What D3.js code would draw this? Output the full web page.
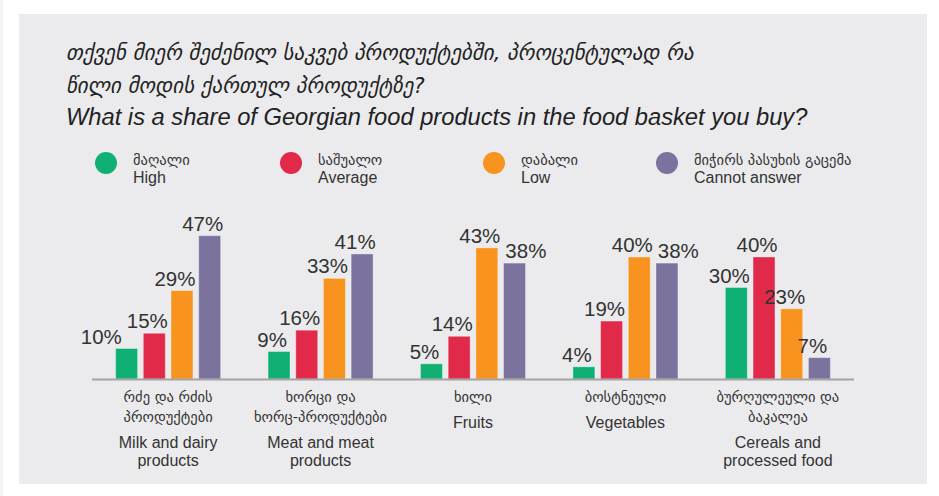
<!DOCTYPE html>
<html>
<head>
<meta charset="utf-8">
<script src="https://cdn.jsdelivr.net/npm/d3@7"></script>
<style>
  html, body { margin: 0; padding: 0; background: #ffffff; }
  svg { display: block; }
</style>
</head>
<body>
<svg id="chart" width="939" height="496"></svg>
<script>
// ---------- data ----------
const categoriesKa = [
  ["რძე და რძის", "პროდუქტები"],
  ["ხორცი და", "ხორც-პროდუქტები"],
  ["ხილი"],
  ["ბოსტნეული"],
  ["ბურღულეული და", "ბაკალეა"]
];
const categoriesEn = [
  ["Milk and dairy", "products"],
  ["Meat and meat", "products"],
  ["Fruits"],
  ["Vegetables"],
  ["Cereals and", "processed food"]
];
const seriesKa = ["მაღალი", "საშუალო", "დაბალი", "მიჭირს პასუხის გაცემა"];
const seriesEn = ["High", "Average", "Low", "Cannot answer"];
const high    = [10,  9,  5,  4, 30];
const average = [15, 16, 14, 19, 40];
const low     = [29, 33, 43, 40, 23];
const cannot  = [47, 41, 38, 38,  7];
const titleKa = ["თქვენ მიერ შეძენილ საკვებ პროდუქტებში, პროცენტულად რა", "წილი მოდის ქართულ პროდუქტზე?"];
const titleEn = "What is a share of Georgian food products in the food basket you buy?";

const colors = ["#10b075", "#e1294a", "#f7931e", "#7b739d"];
const seriesValues = [high, average, low, cannot];

// ---------- layout ----------
const svg = d3.select("#chart");
const FONT = "'Liberation Sans', Arial, 'DejaVu Sans', sans-serif";
const KA_FONT = "'DejaVu Sans', sans-serif";

svg.append("rect").attr("x", 0).attr("y", 0).attr("width", 3).attr("height", 496).attr("fill", "#f4f4f4");
svg.append("rect").attr("x", 19).attr("y", 14).attr("width", 908).attr("height", 470).attr("fill", "#ebebed");

// title
const tg = svg.append("g").attr("fill", "#222");
titleKa.forEach((t, i) => {
  tg.append("text").attr("x", 66).attr("y", 60 + i * 33)
    .attr("font-family", KA_FONT).attr("font-style", "italic")
    .attr("font-size", 21).text(t);
});
tg.append("text").attr("x", 66).attr("y", 125)
  .attr("font-family", FONT).attr("font-style", "italic")
  .attr("font-size", 23.7).text(titleEn);

// legend
const legendX = [106, 291, 494, 667];
seriesEn.forEach((s, i) => {
  const g = svg.append("g").attr("transform", `translate(${legendX[i]},163)`);
  g.append("circle").attr("r", 11).attr("fill", colors[i]);
  g.append("text").attr("x", 27).attr("y", 2).attr("font-family", KA_FONT)
    .attr("font-size", 14.5).attr("fill", "#333").text(seriesKa[i]);
  g.append("text").attr("x", 27).attr("y", 20).attr("font-family", FONT)
    .attr("font-size", 16).attr("fill", "#333").text(s);
});

// scales
const baseY = 379;
const x0 = d3.scaleBand().domain(d3.range(categoriesEn.length)).range([92, 854])
  .paddingInner(0.311).paddingOuter(0.155);
const x1 = d3.scaleBand().domain(d3.range(4)).range([0, x0.bandwidth()])
  .paddingInner(0.207).paddingOuter(0);
const y = d3.scaleLinear().domain([0, 50]).range([baseY, 226.5]);

// bars
const groups = svg.append("g").selectAll("g").data(categoriesEn).join("g")
  .attr("transform", (d, i) => `translate(${x0(i)},0)`);

groups.each(function (d, ci) {
  const g = d3.select(this);
  const vals = seriesValues.map(s => s[ci]);
  g.selectAll("rect").data(vals).join("rect")
    .attr("x", (v, si) => x1(si))
    .attr("y", v => y(v))
    .attr("width", x1.bandwidth())
    .attr("height", v => baseY - y(v))
    .attr("fill", (v, si) => colors[si])
    .attr("stroke", "rgba(255,255,255,0.35)")
    .attr("stroke-width", 1);

  // value labels
  const labels = g.selectAll("text.val").data(vals).join("text")
    .attr("class", "val")
    .attr("font-family", FONT).attr("font-size", 20.5).attr("fill", "#333")
    .attr("text-anchor", "middle")
    .attr("y", v => y(v) - 5)
    .text(v => v + "%");
  // resolve overlaps: shift the label of the shorter bar away
  const boxes = vals.map((v, si) => ({
    v, cx: x1(si) + x1.bandwidth() / 2 - 7,
    w: labels.nodes()[si].getComputedTextLength(),
    base: y(v) - 5
  }));
  for (let k = 0; k < boxes.length - 1; k++) {
    const a = boxes[k], b = boxes[k + 1];
    if (Math.abs(a.base - b.base) < 17) {
      const overlap = (a.cx + a.w / 2 + 5) - (b.cx - b.w / 2);
      if (overlap > 0) {
        if (a.v < b.v) a.cx -= overlap; else b.cx += overlap;
      }
    }
  }
  labels.attr("x", (v, si) => boxes[si].cx);
});

// axis line
svg.append("line").attr("x1", 92).attr("x2", 854).attr("y1", baseY + 0.5).attr("y2", baseY + 0.5)
  .attr("stroke", "#a3a3a3").attr("stroke-width", 2);

// category labels
categoriesEn.forEach((en, i) => {
  const cx = x0(i) + x0.bandwidth() / 2;
  const ka = categoriesKa[i];
  ka.forEach((t, j) => {
    svg.append("text").attr("x", cx).attr("y", 402 + j * 20)
      .attr("text-anchor", "middle").attr("font-family", KA_FONT)
      .attr("font-size", 14.5).attr("fill", "#333").text(t);
  });
  const startEn = 402 + (ka.length - 1) * 20 + 26;
  en.forEach((t, j) => {
    svg.append("text").attr("x", cx).attr("y", startEn + j * 18)
      .attr("text-anchor", "middle").attr("font-family", FONT)
      .attr("font-size", 16).attr("fill", "#333").text(t);
  });
});
</script>
</body>
</html>
